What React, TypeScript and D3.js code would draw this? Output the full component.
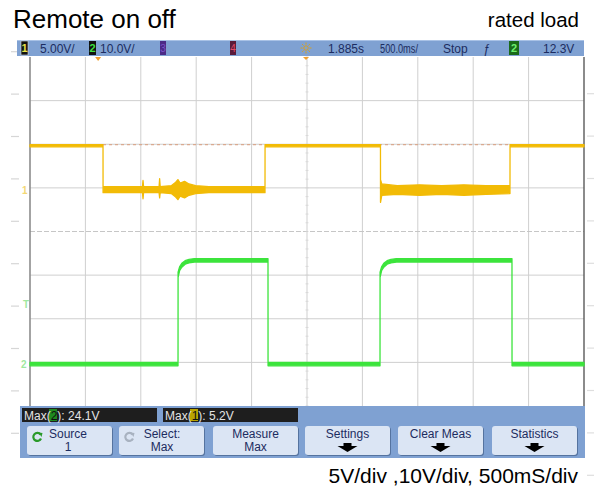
import React from 'react';
import * as d3 from 'd3';

// ---------- text ----------
const title = 'Remote on off';
const subtitle = 'rated load';
const footnote = '5V/div ,10V/div, 500mS/div';

// ---------- scope settings ----------
const timeWindow = [-0.615, 4.385]; // s, delay 1.885 s, 500 ms/div, 10 div
const ch1VPerDiv = 5;
const ch1Center = -4.75; // V at screen centre
const ch2VPerDiv = 10;
const ch2Center = 30.3;
const triggerLevel = 12.3;
const ch1MaxCursor = 5.2;

// ---------- channel 1 (yellow) envelope ----------
const ch1Time = [-0.615, 0.044, 0.0445, 0.2, 0.4, 0.405, 0.41, 0.55, 0.555, 0.56, 0.66, 0.7, 0.72, 0.74, 0.78, 0.82, 0.88, 1.0, 1.3, 1.506, 1.5065, 2.548, 2.5485, 2.56, 2.7, 2.9, 3.1, 3.3, 3.5, 3.717, 3.7175, 4.385];
const ch1Min = [4.95, 4.95, -0.3, -0.3, -0.3, -1.0, -0.3, -0.3, -0.9, -0.3, -0.4, -0.8, -1.1, -0.7, -0.9, -0.6, -0.4, -0.3, -0.3, -0.3, 4.95, 4.95, -1.4, -0.6, -0.5, -0.6, -0.5, -0.6, -0.5, -0.4, 4.95, 4.95];
const ch1Max = [5.2, 5.2, 0.4, 0.4, 0.4, 1.1, 0.4, 0.4, 1.3, 0.4, 0.5, 0.9, 1.2, 0.8, 1.0, 0.7, 0.5, 0.4, 0.4, 0.4, 5.2, 5.2, 1.2, 0.7, 0.5, 0.6, 0.5, 0.6, 0.5, 0.5, 5.2, 5.2];

// ---------- channel 2 (green) envelope ----------
const ch2Time = [-0.615, 0.721, 0.7215, 0.735, 0.755, 0.785, 0.82, 0.87, 1.533, 1.5335, 2.544, 2.5445, 2.558, 2.578, 2.608, 2.643, 2.693, 3.735, 3.7355, 4.385];
const ch2Min = [-0.5, -0.5, 19.8, 21.3, 22.1, 22.8, 23.1, 23.3, 23.3, -0.5, -0.5, 19.8, 21.3, 22.1, 22.8, 23.1, 23.3, 23.3, -0.5, -0.5];
const ch2Max = [0.3, 0.3, 21.0, 22.2, 23.0, 23.6, 23.9, 24.1, 24.1, 0.3, 0.3, 21.0, 22.2, 23.0, 23.6, 23.9, 24.1, 24.1, 0.3, 0.3];

// ---------- UI labels ----------
const headerScales = ['5.00V/', '10.0V/'];
const headerTime = ['1.885s', '500.0ms/', 'Stop'];
const triggerText = '12.3V';
const measNames = ['2', '1'];
const measValues = ['24.1V', '5.2V'];
const buttonTop = ['Source', 'Select:', 'Measure', 'Settings', 'Clear Meas', 'Statistics'];
const buttonBottom = ['1', 'Max', 'Max', '', '', ''];

const W = 594, H = 490;
const PX0 = 30, PX1 = 584, PY0 = 57, PY1 = 406;
const YEL = '#f2bb06';
const GRN = '#3ce43c';
const NAVY = '#1c2c60';
const BAR = '#7fa1d2';
const FONT = 'Liberation Sans, Arial, sans-serif';

export default function App() {
  const x = d3.scaleLinear().domain(timeWindow).range([PX0, PX1]);
  const gx = d3.scaleLinear().domain([0, 10]).range([PX0, PX1]);
  const gy = d3.scaleLinear().domain([-4, 4]).range([PY1, PY0]);
  const y1 = d3.scaleLinear().domain([ch1Center - 4 * ch1VPerDiv, ch1Center + 4 * ch1VPerDiv]).range([PY1, PY0]);
  const y2 = d3.scaleLinear().domain([ch2Center - 4 * ch2VPerDiv, ch2Center + 4 * ch2VPerDiv]).range([PY1, PY0]);

  const area1 = d3.area<number>()
    .x((_, i) => x(ch1Time[i]))
    .y0((_, i) => y1(ch1Min[i]))
    .y1((_, i) => y1(ch1Max[i]));
  const area2 = d3.area<number>()
    .x((_, i) => x(ch2Time[i]))
    .y0((_, i) => y2(ch2Min[i]))
    .y1((_, i) => y2(ch2Max[i]));

  const sideTicks = d3.range(51.7, 440, 42.4);
  const minorY = d3.range(-4, 4.01, 0.2);

  const btnX = [27, 119, 213, 305, 398, 492];
  const btnW = 85;

  return (
    <svg width={W} height={H} style={{ position: 'absolute', left: 0, top: 0, display: 'block', background: '#fff' }} fontFamily={FONT}>
      <rect x={0} y={0} width={W} height={H} fill="#fff" />
      {/* faint side ticks */}
      {sideTicks.map((t, i) => (
        <g key={'st' + i}>
          <line x1={11} x2={19} y1={t} y2={t} stroke="#d6d6d6" strokeWidth={1.2} />
          <line x1={587} x2={594} y1={t + 42} y2={t + 42} stroke="#dedede" strokeWidth={1.2} />
        </g>
      ))}

      {/* titles */}
      <text x={13} y={28} fontSize={26} fill="#000">{title}</text>
      <text x={579} y={27} fontSize={20.5} fill="#000" textAnchor="end">{subtitle}</text>
      <text x={578} y={483} fontSize={21} fill="#000" textAnchor="end">{footnote}</text>

      {/* grid */}
      {d3.range(1, 10).map(i => (
        <line key={'vx' + i} x1={gx(i)} x2={gx(i)} y1={PY0} y2={PY1} stroke="#cfcfcf" strokeWidth={1} />
      ))}
      {d3.range(-3, 4).map(i => i === 0 ? null : (
        <line key={'hy' + i} x1={PX0} x2={PX1} y1={gy(i)} y2={gy(i)} stroke="#cfcfcf" strokeWidth={1} />
      ))}
      <line x1={PX0} x2={PX1} y1={gy(0)} y2={gy(0)} stroke="#c6c6c6" strokeWidth={1} strokeDasharray="5,2" />
      {minorY.map((d, i) => (
        <line key={'my' + i} x1={gx(5) - 1.5} x2={gx(5) + 1.5} y1={gy(d)} y2={gy(d)} stroke="#d4d4d4" strokeWidth={0.8} />
      ))}
      <line x1={PX0} x2={PX0} y1={PY0} y2={PY1} stroke="#8c8c8c" strokeWidth={1.6} />
      <line x1={PX1} x2={PX1} y1={PY0} y2={PY1} stroke="#5a5a5a" strokeWidth={1.4} />

      {/* Max(1) cursor */}
      <line x1={x(ch1Time[1])} x2={PX1} y1={y1(ch1MaxCursor)} y2={y1(ch1MaxCursor)} stroke="#d9a98f" strokeWidth={1.2} strokeDasharray="3,3" />

      {/* traces */}
      <path d={area1(ch1Time) || ''} fill={YEL} stroke={YEL} strokeWidth={1.3} strokeLinejoin="round" />
      <path d={area2(ch2Time) || ''} fill={GRN} stroke={GRN} strokeWidth={1.3} strokeLinejoin="round" />

      {/* ground / trigger markers */}
      <text x={22} y={y1(0) + 4} fontSize={10} fill="#f3d774" fontWeight="bold">1</text>
      <text x={23} y={y2(triggerLevel) - 2} fontSize={10} fill="#9fe89f" fontWeight="bold">T</text>
      <text x={21} y={y2(0) + 4} fontSize={10} fill="#9fe89f" fontWeight="bold">2</text>

      {/* header bar */}
      <rect x={17} y={40} width={567} height={16} fill={BAR} />
      <line x1={17} x2={584} y1={40.5} y2={40.5} stroke="#a9c2e6" />
      <rect x={21} y={41} width={7} height={14} fill="#111" stroke="#ddd" strokeWidth={0.6} />
      <text x={24.5} y={52} fontSize={11} fill="#e8e24a" textAnchor="middle" fontWeight="bold">1</text>
      <text x={40} y={52.5} fontSize={12} fill={NAVY}>{headerScales[0]}</text>
      <rect x={89} y={41} width={7} height={14} fill="#111" />
      <text x={92.5} y={52} fontSize={11} fill="#3fe03f" textAnchor="middle" fontWeight="bold">2</text>
      <text x={100} y={52.5} fontSize={12} fill={NAVY}>{headerScales[1]}</text>
      <rect x={160} y={41} width={6} height={14} fill="#4b2a86" />
      <text x={163} y={52} fontSize={10} fill="#7a52c6" textAnchor="middle">3</text>
      <rect x={230} y={41} width={6} height={14} fill="#5a1a3a" />
      <text x={233} y={52} fontSize={10} fill="#e04a6a" textAnchor="middle">4</text>
      {/* delay sun icon */}
      <g transform="translate(306,48)" stroke="#d8a020" strokeWidth={1}>
        <circle r={2.2} fill="none" />
        {d3.range(0, 360, 45).map(a => (
          <line key={a} x1={3.5 * Math.cos(a * Math.PI / 180)} y1={3.5 * Math.sin(a * Math.PI / 180)} x2={5.5 * Math.cos(a * Math.PI / 180)} y2={5.5 * Math.sin(a * Math.PI / 180)} />
        ))}
      </g>
      <text x={328} y={52.5} fontSize={12} fill={NAVY}>{headerTime[0]}</text>
      <text x={380} y={52.5} fontSize={12} fill={NAVY} textLength={38} lengthAdjust="spacingAndGlyphs">{headerTime[1]}</text>
      <text x={443} y={52.5} fontSize={12} fill={NAVY}>{headerTime[2]}</text>
      <text x={483} y={52.5} fontSize={12} fill={NAVY} fontStyle="italic">ƒ</text>
      <rect x={509} y={41} width={10} height={14} fill="#1a6a1a" />
      <text x={514} y={52} fontSize={11} fill="#6ff06f" textAnchor="middle" fontWeight="bold">2</text>
      <text x={543} y={52.5} fontSize={12} fill={NAVY}>{triggerText}</text>
      {/* trigger / delay markers */}
      <path d={`M${x(0) - 3},57 L${x(0) + 3},57 L${x(0)},61 Z`} fill="#f0a030" />
      <path d="M303,57 L309,57 L306,60 Z" fill="#f0a030" />

      {/* softkey area */}
      <rect x={20} y={406} width={565} height={52} fill={BAR} />
      {[0, 1].map(i => {
        const bx = i === 0 ? 22 : 163;
        return (
          <g key={'m' + i}>
            <rect x={bx} y={408} width={135} height={14} fill="#1e1e1e" />
            <rect x={bx + 27} y={409} width={8} height={12} fill={i === 0 ? '#1f8a1f' : '#b8a400'} />
            <text x={bx + 2} y={419.5} fontSize={12} fill="#e4e4e4">
              Max(<tspan fill="#101010">{measNames[i]}</tspan>): {measValues[i]}
            </text>
          </g>
        );
      })}
      {buttonTop.map((t, i) => {
        const bx = btnX[i];
        const cx = i === 0 ? 68 : i === 1 ? 162 : bx + btnW / 2;
        return (
          <g key={'b' + i}>
            <rect x={bx + 1} y={427} width={btnW} height={29} rx={3} fill="#55739f" />
            <rect x={bx} y={426} width={btnW} height={29} rx={3} fill="#dbe5f4" />
            <text x={cx} y={438} fontSize={12} fill={NAVY} textAnchor="middle">{t}</text>
            {buttonBottom[i] ? (
              <text x={cx} y={451} fontSize={12} fill={NAVY} textAnchor="middle">{buttonBottom[i]}</text>
            ) : (
              <path d={`M${cx - 4},443 h8 v3 h6 l-10,6 l-10,-6 h6 Z`} fill="#000" />
            )}
            {i < 2 ? (
              <g transform={`translate(${bx + 10},437)`}>
                <path d="M3.5,-2.5 A4,4 0 1,0 4,1.5" fill="none" stroke={i === 0 ? '#2a9a2a' : '#a8b2c0'} strokeWidth={2.2} />
                <path d="M1.5,-4.5 L5.5,-4 L4.5,0 Z" fill={i === 0 ? '#2a9a2a' : '#a8b2c0'} />
              </g>
            ) : null}
          </g>
        );
      })}
    </svg>
  );
}
